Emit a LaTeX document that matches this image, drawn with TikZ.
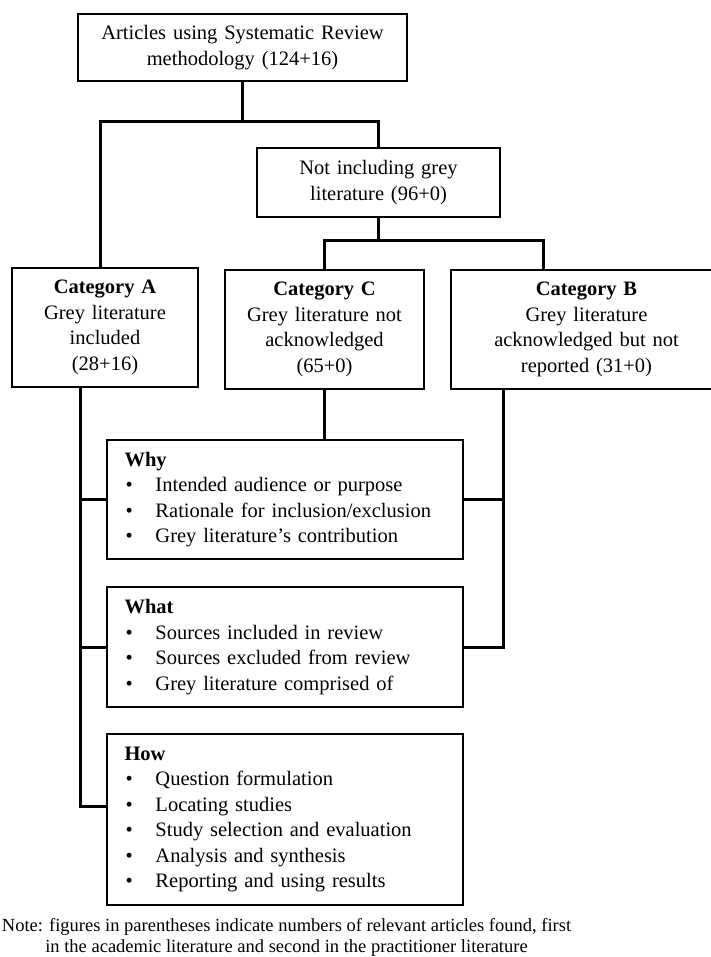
\documentclass[tikz,border=0pt]{standalone}
\usepackage{fontspec}
\setmainfont{Liberation Serif}
\newcommand\bul{\makebox[31pt][l]{\hspace{1pt}\textbullet}}
\begin{document}
\begin{tikzpicture}[x=1pt,y=-1pt,
  box/.style={draw, line width=1.8pt, inner sep=0pt, align=center,
    font=\fontsize{20.5}{25.5}\selectfont},
  listbox/.style={box, align=left},
  conn/.style={line width=3pt, line join=miter, line cap=rect}]
\useasboundingbox (0,0) rectangle (710,957);

\node[box, minimum width=329pt, minimum height=67pt, text width=320pt] (top) at (242.5,47.5)
  {Articles using Systematic Review\\methodology (124+16)};
\node[box, minimum width=243pt, minimum height=69pt, text width=235pt] (nig) at (378.5,182.5)
  {Not including grey\\literature (96+0)};
\node[box, minimum width=186pt, minimum height=119pt, text width=178pt] (catA) at (105,327.5)
  {\textbf{Category A}\\Grey literature\\included\\(28+16)};
\node[box, minimum width=199pt, minimum height=119pt, text width=191pt] (catC) at (324.5,329.5)
  {\textbf{Category C}\\Grey literature not\\acknowledged\\(65+0)};
\node[box, minimum width=271pt, minimum height=119pt, text width=263pt] (catB) at (586.5,329.5)
  {\textbf{Category B}\\Grey literature\\acknowledged but not\\reported (31+0)};

\node[listbox, minimum width=356pt, minimum height=119pt, text width=321pt] (why) at (285,499.5)
  {\textbf{Why}\\\bul Intended audience or purpose\\\bul Rationale for inclusion/exclusion\\\bul Grey literature’s contribution};
\node[listbox, minimum width=356pt, minimum height=120pt, text width=321pt] (what) at (285,647)
  {\textbf{What}\\\bul Sources included in review\\\bul Sources excluded from review\\\bul Grey literature comprised of};
\node[listbox, minimum width=356pt, minimum height=171pt, text width=321pt] (how) at (285,819.5)
  {\textbf{How}\\\bul Question formulation\\\bul Locating studies\\\bul Study selection and evaluation\\\bul Analysis and synthesis\\\bul Reporting and using results};

\node[align=center, inner sep=0pt, font=\fontsize{18.5}{21}\selectfont] (note) at (286.5,937.5)
  {Note: figures in parentheses indicate numbers of relevant articles found, first\\in the academic literature and second in the practitioner literature};

\coordinate (jA) at (100.5,122);
\coordinate (jB) at (543.5,241);
\coordinate (lx) at (80,0);
\coordinate (rx) at (503.5,0);
\coordinate (hA) at ([yshift=-73pt]how.north west);

\draw[conn] (top.south) -- (top.south |- jA);
\draw[conn] (jA |- catA.north) -- (jA) -- (jA -| nig.north) -- (nig.north);
\draw[conn] (nig.south) -- (nig.south |- jB);
\draw[conn] (catC.north) -- (catC.north |- jB) -- (jB) -- (jB |- catB.north);
\draw[conn] (catC.south) -- (catC.south |- why.north);
\draw[conn] (lx |- catA.south) -- (lx |- hA) -- (hA);
\draw[conn] (why.west) -- (lx |- why.west);
\draw[conn] (what.west) -- (lx |- what.west);
\draw[conn] (rx |- catB.south) -- (rx |- what.east) -- (what.east);
\draw[conn] (why.east) -- (rx |- why.east);
\end{tikzpicture}
\end{document}
